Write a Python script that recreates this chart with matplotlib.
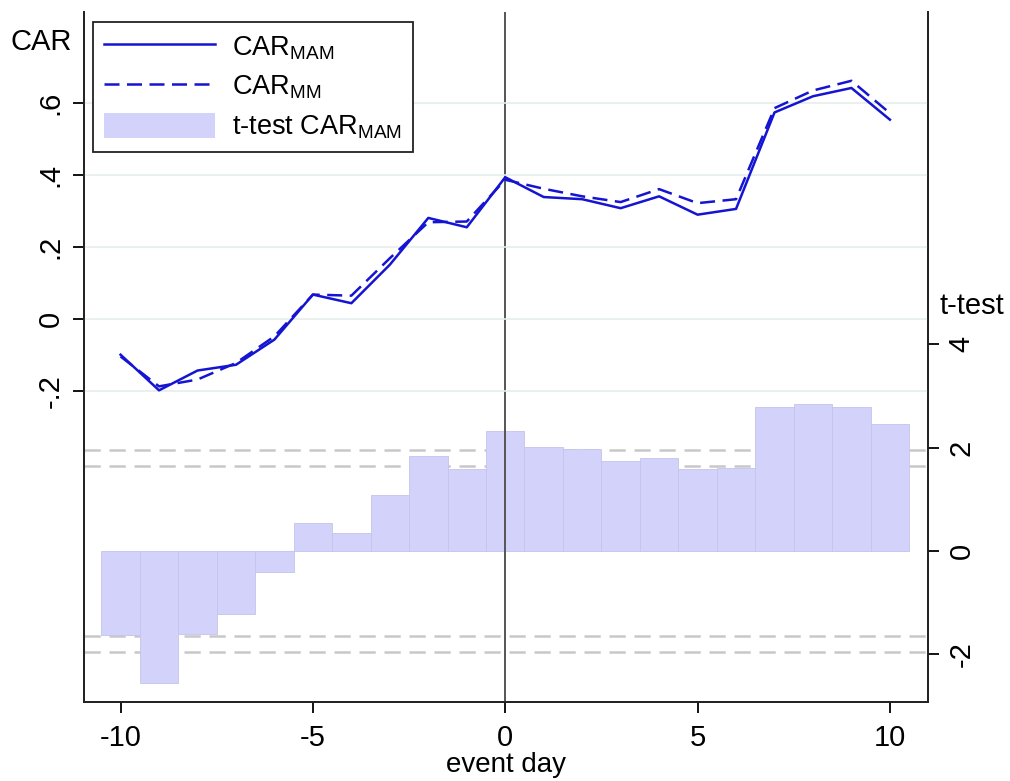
import matplotlib
matplotlib.use("Agg")
import matplotlib.pyplot as plt
from matplotlib.patches import Patch
from matplotlib.lines import Line2D

plt.rcParams['font.family'] = ['Liberation Sans', 'DejaVu Sans']
plt.rcParams['mathtext.fontset'] = 'custom'
plt.rcParams['mathtext.rm'] = 'Liberation Sans'
plt.rcParams['mathtext.it'] = 'Liberation Sans'

# event window
days = list(range(-10, 11))

# cumulative abnormal returns
car_mam = [-0.099, -0.198, -0.143, -0.127, -0.057, 0.068, 0.044, 0.151, 0.281, 0.255, 0.394,
           0.339, 0.333, 0.308, 0.341, 0.290, 0.306, 0.574, 0.619, 0.642, 0.554]
car_mm = [-0.104, -0.187, -0.168, -0.122, -0.048, 0.068, 0.065, 0.169, 0.269, 0.271, 0.387,
          0.362, 0.341, 0.325, 0.361, 0.322, 0.333, 0.586, 0.635, 0.662, 0.572]

# t-statistics of CAR_MAM
t_mam = [-1.63, -2.56, -1.61, -1.21, -0.41, 0.55, 0.35, 1.08, 1.84, 1.59, 2.32,
         2.02, 1.97, 1.74, 1.79, 1.58, 1.61, 2.78, 2.85, 2.78, 2.45]

# critical values
crit = [1.645, 1.96, -1.645, -1.96]

car_ticks = [-0.2, 0, 0.2, 0.4, 0.6]
car_ticklabels = ['-.2', '0', '.2', '.4', '.6']
t_ticks = [-2, 0, 2, 4]
x_ticks = [-10, -5, 0, 5, 10]

FS = 21
blue = '#1414d2'

fig = plt.figure(figsize=(10.1, 7.81), dpi=100)
ax = fig.add_axes([0.0832, 0.1011, 0.8356, 0.8835])
car = ax.twinx()

# t-test bars (right axis)
for c in crit:
    ax.axhline(c, color='#c8c8c8', lw=1.8, ls=(0, (6.5, 3.5)), zorder=1)
ax.bar(days, t_mam, width=1.0, color='#d2d2fa', edgecolor='#c4c4ec', linewidth=0.6, zorder=2)
ax.axvline(0, color='#555555', lw=1.4, zorder=3)
ax.set_xlim(-10.95, 10.99)
ax.set_ylim(-2.92, 10.42)
ax.yaxis.tick_right()
ax.set_yticks(t_ticks)
ax.set_yticklabels([str(t) for t in t_ticks], rotation=90, va='center', fontsize=FS)
ax.set_xticks(x_ticks)
ax.set_xticklabels([str(x) for x in x_ticks], fontsize=FS)
ax.set_xlabel('event day', fontsize=20, labelpad=0)
ax.tick_params(axis='x', direction='out', length=8, width=1.3, pad=8)
ax.tick_params(axis='y', direction='out', length=8, width=1.3, pad=6)

# CAR lines (left axis)
car.yaxis.tick_left()
car.set_ylim(-1.064, 0.853)
car.set_yticks(car_ticks)
car.set_yticklabels(car_ticklabels, rotation=90, va='center', fontsize=FS)
car.tick_params(axis='y', direction='out', length=8, width=1.3, pad=6)
for y in car_ticks:
    car.axhline(y, color='#e6eeee', lw=1.2, zorder=0)
car.plot(days, car_mam, color=blue, lw=1.8, zorder=5)
car.plot(days, car_mm, color=blue, lw=1.8, ls=(0, (6, 3)), zorder=5)

for a in (ax, car):
    a.spines['top'].set_visible(False)
    for s in ('left', 'right', 'bottom'):
        a.spines[s].set_linewidth(1.3)
        a.spines[s].set_color('#222222')

fig.text(11 / 1010, 1 - 42 / 781, 'CAR', fontsize=FS, ha='left', va='center')
fig.text(940 / 1010, 1 - 306 / 781, 't-test', fontsize=FS, ha='left', va='center')

handles = [Line2D([], [], color=blue, lw=1.8),
           Line2D([], [], color=blue, lw=1.8, ls=(0, (6, 3))),
           Patch(facecolor='#d2d2fa', edgecolor='none')]
labels = [r'CAR$_{\mathregular{MAM}}$', r'CAR$_{\mathregular{MM}}$', r't-test CAR$_{\mathregular{MAM}}$']
leg = car.legend(handles, labels, loc='upper left', bbox_to_anchor=(0.0107, 0.9855),
                 borderaxespad=0, fontsize=19.5, handlelength=4.1, handletextpad=0.6,
                 handleheight=1.05, labelspacing=0.42, borderpad=0.42, fancybox=False,
                 framealpha=1, edgecolor='#222222')
leg.get_frame().set_linewidth(1.3)

fig.savefig('out.png', dpi=100)
